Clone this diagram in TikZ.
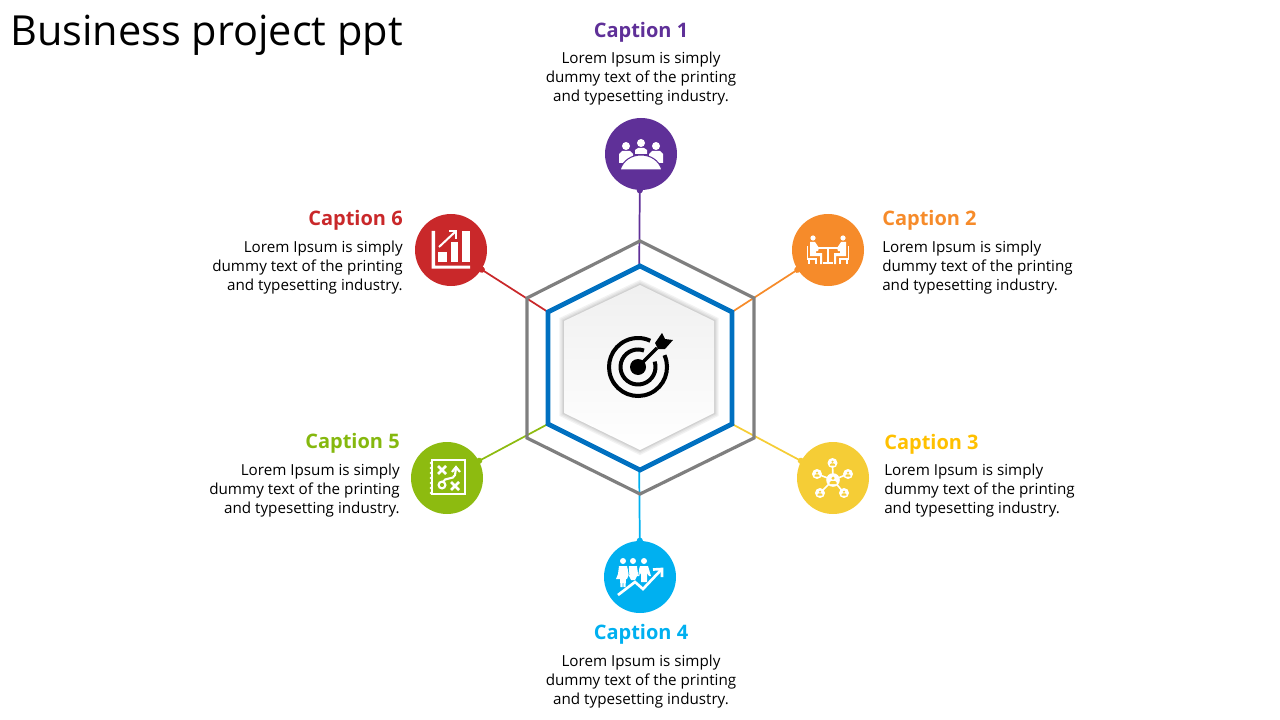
\documentclass[tikz,border=0pt]{standalone}
\usepackage{fontspec}
\setmainfont{Open Sans}
\usetikzlibrary{arrows.meta}

\definecolor{cpurple}{HTML}{5F3098}
\definecolor{corange}{HTML}{F68B2A}
\definecolor{cyellow}{HTML}{F5CD36}
\definecolor{ccyan}{HTML}{00B0F0}
\definecolor{cgreen}{HTML}{8DBB10}
\definecolor{cred}{HTML}{C9282A}
\definecolor{tyellow}{HTML}{FFC000}
\definecolor{tgreen}{HTML}{85B80E}
\definecolor{hexblue}{HTML}{0070C0}
\definecolor{hexgray}{HTML}{7F7F7F}

\newcommand{\dummytext}{Lorem Ipsum is simply\\dummy text of the printing\\and typesetting industry.}

\tikzset{
  bubble/.style={circle,minimum size=54pt,inner sep=0pt},
  headtext/.style={inner sep=0pt,font=\fontsize{15}{18}\selectfont\bfseries},
  bodytext/.style={inner sep=0pt,font=\fontsize{11.4}{14.25}\selectfont},
  spoke/.style={line width=1.3pt,-{Circle[length=4.5pt]},shorten >=-2pt},
}

\begin{document}
\begin{tikzpicture}[x=0.75pt,y=-0.75pt]
\useasboundingbox (0,0) rectangle (1280,720);

\coordinate (ba) at (639.2,266);
\coordinate (bb) at (732,312);
\coordinate (bc) at (732,424);
\coordinate (bd) at (639.2,470);
\coordinate (be) at (548,424);
\coordinate (bf) at (548,312);
\coordinate (da) at (639.8,190);
\coordinate (dd) at (639.8,541);

\node[bubble,fill=cpurple] (bubblea) at (641,154) {};
\node[bubble,fill=corange] (bubbleb) at (828,250) {};
\node[bubble,fill=cyellow] (bubblec) at (833,478) {};
\node[bubble,fill=ccyan] (bubbled) at (640,577) {};
\node[bubble,fill=cgreen] (bubblee) at (447,478) {};
\node[bubble,fill=cred] (bubblef) at (451,250) {};

\draw[spoke,cpurple] (ba) -- (da);
\draw[spoke,corange] (bb) -- (bubbleb);
\draw[spoke,cyellow] (bc) -- (bubblec);
\draw[spoke,ccyan] (bd) -- (dd);
\draw[spoke,cgreen] (be) -- (bubblee);
\draw[spoke,cred] (bf) -- (bubblef);

\draw[hexgray,line width=2.4pt] (640,241) -- (754,298) -- (754,438) -- (640,494) -- (527,438) -- (527,298) -- cycle;
\draw[hexblue,line width=3.6pt] (640,266) -- (bb) -- (bc) -- (640,470) -- (be) -- (bf) -- cycle;

\foreach \w in {7,5,3,1.5} {
  \draw[black,opacity=0.05,line width=\w pt] (640,285) -- (714,321) -- (714,413) -- (640,450) -- (564,413) -- (564,321) -- cycle;
}
\shade[top color=black!6,bottom color=white] (640,285) -- (714,321) -- (714,413) -- (640,450) -- (564,413) -- (564,321) -- cycle;

\begin{scope}[shift={(638,367)}]
\draw[line width=3pt] (-24:29) arc [radius=29, start angle=-24, end angle=295];
\draw[line width=3pt] (-18:17.5) arc [radius=17.5, start angle=-18, end angle=290];
\fill (0,0) circle (8);
\draw[line width=2.4pt] (0,0) -- (19,-19);
\fill (24,-34) -- (27,-28) -- (35,-27) -- (27,-18) -- (20,-18) -- (17,-24) -- cycle;
\end{scope}

\begin{scope}[shift={(641,154)}]
\fill[white] (-15,-8) circle (4) (0,-11) circle (4) (15,-8) circle (4);
\fill[white] (-22,9) -- (-22,0) -- (-19,-3) -- (-11,-3) -- (-8,0) -- (-8,9) -- cycle;
\fill[white] (22,9) -- (22,0) -- (19,-3) -- (11,-3) -- (8,0) -- (8,9) -- cycle;
\fill[white] (-6,0) -- (-6,-4) -- (-3,-6) -- (3,-6) -- (6,-4) -- (6,0) -- cycle;
\fill[white,draw=cpurple,line width=0.8pt] (-21,16) .. controls (-18,6) and (-9,1) .. (0,1) .. controls (9,1) and (18,6) .. (21,16) -- cycle;
\end{scope}

\begin{scope}[shift={(828,250)}]
\draw[white,line width=1.6pt] (-11,-2) -- (11,-2);
\draw[white,line width=1.4pt] (0,-2) -- (0,13) (-5,13) -- (5,13);
\foreach \sgn in {1,-1} {
  \begin{scope}[xscale=\sgn]
  \fill[white] (-15,-12) circle (2.6);
  \fill[white] (-18,-8) -- (-13,-8) -- (-9,-2) -- (-10,1) -- (-12,1) -- (-12,3) -- (-6,3) -- (-6,14) -- (-8,14) -- (-8,6) -- (-18,6) -- cycle;
  \draw[white,line width=1.1pt] (-20.5,-4) -- (-20.5,9) -- (-11,9) (-19,9) -- (-19,14) (-12,9) -- (-12,14);
  \end{scope}
}
\end{scope}

\begin{scope}[shift={(833,478)}]
\draw[white,line width=1.2pt] (0,2) -- (-0.5,-15) (0,2) -- (-16,-4) (0,2) -- (15,-4) (0,2) -- (-13,15) (0,2) -- (11,15);
\fill[white] (0,2) circle (6.8);
\fill[cyellow] (0,0.2) circle (1.7);
\fill[cyellow] (-3.5,6) -- (-3.5,4.5) -- (-2,3) -- (2,3) -- (3.5,4.5) -- (3.5,6) -- cycle;
\foreach \px/\py in {-0.5/-15,-16/-4,15/-4,-13/15,11/15} {
  \fill[white] (\px,\py) circle (5);
  \fill[cyellow] (\px,\py-1.3) circle (1.2);
  \fill[cyellow] (\px-2.4,\py+2.5) -- (\px-2.4,\py+1.3) -- (\px-1.3,\py+0.4) -- (\px+1.3,\py+0.4) -- (\px+2.4,\py+1.3) -- (\px+2.4,\py+2.5) -- cycle;
}
\end{scope}

\begin{scope}[shift={(640,577)}]
\fill[white] (-7,-16) circle (3);
\fill[white] (-11,-11) -- (-3,-11) -- (-2,-3) -- (-5,3) -- (-9,3) -- (-12,-3) -- cycle;
\fill[white] (4,-16) circle (3);
\fill[white] (0,-11) -- (8,-11) -- (11,-1) -- (9,-1) -- (7,-4) -- (7,5) -- (1,5) -- (1,-4) -- (-1,-1) -- (-3,-1) -- cycle;
\fill[white] (-17,-16) circle (3);
\fill[white] (-21,-11) -- (-13,-11) -- (-11,-3) -- (-13,2) -- (-14,2) -- (-14.5,10) -- (-16.5,10) -- (-17,2) -- (-17.5,10) -- (-19.5,10) -- (-20,2) -- (-24,2) -- (-22,-3) -- cycle;
\draw[ccyan,line width=0.5pt] (-12,-10) -- (-11,-2) (-2,-10) -- (-1,-2);
\draw[white,line width=2pt,line join=miter] (-22,18) -- (-5,5) -- (3,12) -- (21,-7);
\draw[white,line width=2pt] (13,-7.5) -- (22,-8) -- (22,0);
\end{scope}

\begin{scope}[shift={(447,478)}]
\draw[white,line width=1.7pt] (-15,-18) rectangle (18,16);
\foreach \dy in {-15,-10,-5,0,5,10,15} {
  \fill[white] (-16,\dy) circle (1.5);
}
\draw[white,line width=2pt] (-9,-12) -- (-1,-4) (-9,-4) -- (-1,-12);
\draw[white,line width=2pt] (4,4) -- (12,12) (4,12) -- (12,4);
\draw[white,line width=1.6pt] (-5,7) circle (3.4);
\draw[white,line width=1.6pt] (-4,4) .. controls (-3,-1) and (7,2) .. (8,-3) -- (9,-10);
\draw[white,line width=1.6pt] (5,-6) -- (9,-11) -- (13,-6);
\end{scope}

\begin{scope}[shift={(451,250)}]
\fill[white] (-19.3,-19) rectangle (-16,18.5) (-19.3,15.5) rectangle (19,18.5);
\fill[white] (-12.7,1.7) rectangle (-4.3,12.3);
\fill[white] (0,-8.3) rectangle (7.3,12.3);
\fill[white] (11.3,-19) rectangle (19,12.3);
\draw[white,line width=1.5pt] (-12,-3) -- (4,-18);
\draw[white,line width=1.5pt] (-2,-18.5) -- (5,-18.5) -- (5,-11);
\end{scope}

\node[anchor=west,inner sep=0pt,font=\fontsize{31.1}{38}\selectfont] (title) at (10,35) {Business project ppt};

\node[headtext,cpurple,anchor=center] (capa) at (641,32) {Caption 1};
\node[bodytext,align=center] (txta) at (641,79) {\dummytext};

\node[headtext,corange,anchor=west] (capb) at (882,220) {Caption 2};
\node[bodytext,align=left,anchor=west] (txtb) at (882,268) {\dummytext};

\node[headtext,tyellow,anchor=west] (capc) at (884,444) {Caption 3};
\node[bodytext,align=left,anchor=west] (txtc) at (884,491) {\dummytext};

\node[headtext,ccyan,anchor=center] (capd) at (641,634) {Caption 4};
\node[bodytext,align=center] (txtd) at (641,682) {\dummytext};

\node[headtext,tgreen,anchor=east] (cape) at (400,443) {Caption 5};
\node[bodytext,align=right,anchor=east] (txte) at (400,491) {\dummytext};

\node[headtext,cred,anchor=east] (capf) at (403,220) {Caption 6};
\node[bodytext,align=right,anchor=east] (txtf) at (403,268) {\dummytext};

\end{tikzpicture}
\end{document}
